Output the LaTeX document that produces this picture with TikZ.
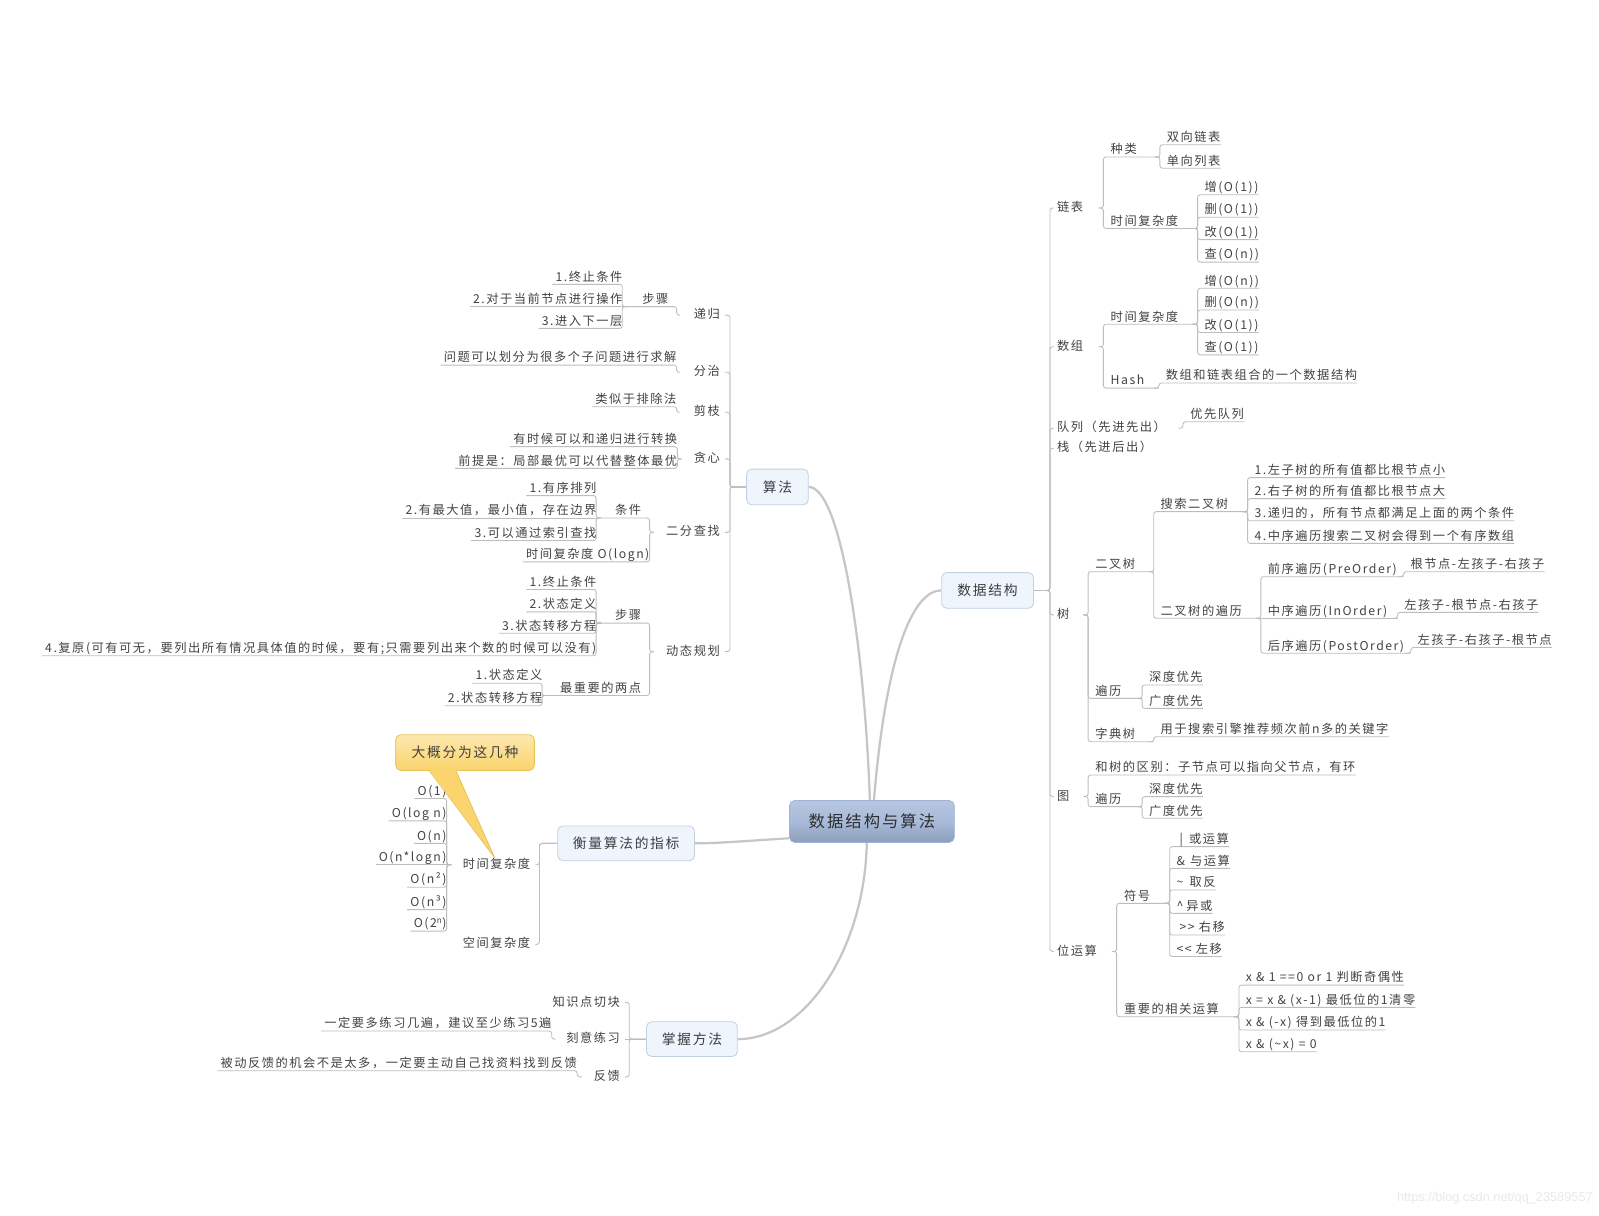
\documentclass[tikz,border=0pt]{standalone}
\usepackage{fontspec}
\setmainfont{Noto Sans CJK SC}[LetterSpace=12.5]
\newfontfamily\wmfont{Liberation Sans}
\pgfdeclarelayer{bg}
\pgfsetlayers{bg,main}
\definecolor{txt}{HTML}{424242}
\definecolor{lnc}{HTML}{BDBDBD}
\definecolor{mcc}{HTML}{C6C6C6}
\definecolor{tbd}{HTML}{C3D0DE}
\definecolor{tfill}{HTML}{EEF5FD}
\definecolor{ttx}{HTML}{3E3E3E}
\definecolor{rbd}{HTML}{9FB3D6}
\definecolor{cobd}{HTML}{E8C25A}
\definecolor{cof}{HTML}{FAD46C}
\definecolor{wmc}{HTML}{E9E9E9}
% right underlined parent: name, left spine x, underline y, right spine x, text
\newcommand\xmRN[5]{\node[nd,anchor=south west] (#1) at (#2,#3) {\makebox[\dimexpr #4pt-#2pt\relax][l]{\hspace{7pt}#5}};}
% left underlined parent: name, right spine x, underline y, left spine x, text
\newcommand\xmLN[5]{\node[nd,anchor=south east] (#1) at (#2,#3) {\makebox[\dimexpr #2pt-#4pt\relax][r]{#5\hspace{8pt}}};}
% leaves
\newcommand\xmRL[4]{\node[nd,anchor=south west] (#1) at (#2,#3) {\hspace{7pt}#4\hspace{3pt}};}
\newcommand\xmLL[4]{\node[nd,anchor=south east] (#1) at (#2,#3) {\hspace{3pt}#4\hspace{8pt}};}
% level-2 labels without underline
\newcommand\xmRM[5]{\node[nd,anchor=west] (#1) at (#2,#3) {\makebox[\dimexpr #4pt-#2pt\relax][l]{\hspace{3pt}#5}};}
\newcommand\xmLM[5]{\node[nd,anchor=east] (#1) at (#2,#3) {\makebox[\dimexpr #2pt-#4pt\relax][r]{#5\hspace{5pt}}};}
% connectors
\newcommand\xmeR[2]{\draw[con] ([xshift=-5pt]#1.south east) -- (#1.south east) |- (#2.south east);}
\newcommand\xmeRm[2]{\draw[con] (#1.east) -- (#1.east -| #2.south west) |- (#2.south east);}
\newcommand\xmeL[2]{\draw[con] ([xshift=5pt]#1.south west) -- (#1.south west) |- (#2.south west);}
\newcommand\xmeLm[2]{\draw[con] (#1.west) -- (#1.west -| #2.south east) |- (#2.south west);}
\begin{document}
\begin{tikzpicture}[x=1pt,y=-1pt,
  nd/.style={inner sep=0pt, text height=10pt, text depth=3pt, font=\fontsize{12}{14}\selectfont, text=txt},
  con/.style={draw=lnc, line width=0.85pt, rounded corners=2.5pt},
  mainc/.style={draw=mcc, line width=2.2pt},
  topic/.style={draw=tbd, fill=tfill, rounded corners=5pt, line width=0.8pt, minimum height=35pt, inner sep=2pt, font=\fontsize{13.5}{16}\selectfont, text=ttx},
  rootn/.style={draw=rbd, top color=white!25!rbd, bottom color=rbd!85!black!95, middle color=rbd!90, rounded corners=5pt, line width=0.8pt, inner sep=2pt, font=\fontsize{16}{19}\selectfont, text=black!82},
  callo/.style={draw=cobd, top color=cof!55!white, bottom color=cof, rounded corners=5pt, line width=0.8pt, inner sep=2pt, minimum width=136pt, minimum height=35pt, font=\fontsize{13.5}{16}\selectfont, text=black!75}
]
\useasboundingbox (0,0) rectangle (1568,1192);

% ---------- topics ----------
\node[rootn, minimum width=161.5pt, minimum height=41pt] (root) at (855,805.5) {数据结构与算法};
\node[topic, minimum width=90pt] (ds) at (968.4,579) {数据结构};
\node[topic, minimum width=60.5pt] (alg) at (762.4,477.5) {算法};
\node[topic, minimum width=134pt, minimum height=34pt] (meas) at (614,827) {衡量算法的指标};
\node[topic, minimum width=89pt, minimum height=34pt] (mast) at (678.5,1019) {掌握方法};

\coordinate (dssp) at (1029.6,579);
\coordinate (algsp) at (715.8,477.5);
\coordinate (mssp) at (529,827);
\coordinate (mtsp) at (617,1019);

% ---------- right: data structures ----------
\xmRM{lb}{1033.5}{204}{1077}{链表}
\xmRM{sz}{1033.5}{340}{1077}{数组}
\xmRM{dl}{1033.5}{420}{1155}{队列（先进先出）}
\xmRM{zh}{1033.5}{439.6}{1135}{栈（先进后出）}
\xmRM{sh}{1033.5}{603}{1062}{树}
\xmRM{tu}{1033.5}{781}{1062}{图}
\xmRM{wy}{1033.5}{933}{1090}{位运算}

\xmRN{zl}{1082}{154}{1137}{种类}
\xmRL{sx}{1137}{142}{双向链表}
\xmRL{dx}{1137}{165}{单向列表}
\xmRN{lsj}{1082}{224}{1174}{时间复杂度}
\xmRL{lz}{1174}{191}{增(O(1))}
\xmRL{ls}{1174}{213}{删(O(1))}
\xmRL{lg}{1174}{235}{改(O(1))}
\xmRL{lc}{1174}{257}{查(O(n))}

\xmRN{ssj}{1082}{318}{1174}{时间复杂度}
\xmRL{sz1}{1174}{282.7}{增(O(n))}
\xmRL{sz2}{1174}{304}{删(O(n))}
\xmRL{sz3}{1174}{326}{改(O(1))}
\xmRL{sz4}{1174}{348}{查(O(1))}
\xmRN{hash}{1082}{380.6}{1136}{Hash}
\xmRL{hashc}{1136}{375.6}{数组和链表组合的一个数据结构}

\xmRL{yx}{1160}{413.6}{优先队列}

\xmRN{ecs}{1067}{560.6}{1131}{二叉树}
\xmRN{sse}{1131}{501.7}{1223}{搜索二叉树}
\xmRL{s1}{1223}{468.4}{1.左子树的所有值都比根节点小}
\xmRL{s2}{1223}{489}{2.右子树的所有值都比根节点大}
\xmRL{s3}{1223}{510.6}{3.递归的，所有节点都满足上面的两个条件}
\xmRL{s4}{1223}{532.8}{4.中序遍历搜索二叉树会得到一个有序数组}
\xmRN{ebl}{1131}{606.3}{1236}{二叉树的遍历}
\xmRN{qx}{1236}{565.5}{1376}{前序遍历(PreOrder)}
\xmRL{qxc}{1376}{560.6}{根节点-左孩子-右孩子}
\xmRN{zx}{1236}{606.3}{1370}{中序遍历(InOrder)}
\xmRL{zxc}{1370}{600.5}{左孩子-根节点-右孩子}
\xmRN{hx}{1236}{640.6}{1383}{后序遍历(PostOrder)}
\xmRL{hxc}{1383}{635}{左孩子-右孩子-根节点}
\xmRN{tbl}{1067}{684.8}{1119.6}{遍历}
\xmRL{tb1}{1119.6}{671.7}{深度优先}
\xmRL{tb2}{1119.6}{694.6}{广度优先}
\xmRN{zds}{1067}{727.3}{1131}{字典树}
\xmRL{zdsc}{1131}{722.4}{用于搜索引擎推荐频次前n多的关键字}

\xmRL{qb}{1067}{760}{和树的区别：子节点可以指向父节点，有环}
\xmRN{tbl2}{1067}{791}{1119.6}{遍历}
\xmRL{tc1}{1119.6}{781.2}{深度优先}
\xmRL{tc2}{1119.6}{802.4}{广度优先}

\xmRN{fh}{1095}{885.8}{1146.6}{符号}
\xmRL{f1}{1146.6}{830.2}{\hspace{3pt}|\hspace{6pt}或运算}
\xmRL{f2}{1146.6}{851.5}{\&\hspace{5pt}与运算}
\xmRL{f3}{1146.6}{872.7}{\textasciitilde\hspace{6pt}取反}
\xmRL{f4}{1146.6}{895.6}{\textasciicircum\hspace{3pt}异或}
\xmRL{f5}{1146.6}{916.9}{\hspace{3pt}>{}>\hspace{4pt}右移}
\xmRL{f6}{1146.6}{938}{<{}<\hspace{4pt}左移}
\xmRN{zy}{1095}{997}{1214.5}{重要的相关运算}
\xmRL{y1}{1214.5}{966}{x \& 1 ==0 or 1 判断奇偶性}
\xmRL{y2}{1214.5}{987.8}{x = x \& (x-1) 最低位的1清零}
\xmRL{y3}{1214.5}{1010}{x \& (-x) 得到最低位的1}
\xmRL{y4}{1214.5}{1031.3}{x \& (\textasciitilde x) = 0}

% ---------- left: algorithms ----------
\xmLM{dg}{711}{309}{667}{递归}
\xmLM{fz}{711}{365}{667}{分治}
\xmLM{jz}{711}{404.3}{667}{剪枝}
\xmLM{tx}{711}{450}{668.7}{贪心}
\xmLM{ef}{711}{522}{641.5}{二分查找}
\xmLM{dt}{711}{639}{641.5}{动态规划}

\xmLN{bz}{663.5}{300.7}{610.6}{步骤}
\xmLL{bz1}{610.6}{278.8}{1.终止条件}
\xmLL{bz2}{610.6}{300.7}{2.对于当前节点进行操作}
\xmLL{bz3}{610.6}{322}{3.进入下一层}
\xmLL{fzc}{663.5}{358}{问题可以划分为很多个子问题进行求解}
\xmLL{jzc}{663.5}{398.8}{类似于排除法}
\xmLL{tx1}{664.2}{438}{有时候可以和递归进行转换}
\xmLL{tx2}{664.2}{459.3}{前提是：局部最优可以代替整体最优}

\xmLN{tj}{637}{508}{585}{条件}
\xmLL{tj1}{585}{486}{1.有序排列}
\xmLL{tj2}{585}{508}{2.有最大值，最小值，存在边界}
\xmLL{tj3}{585}{530}{3.可以通过索引查找}
\xmLL{efc}{637}{551}{时间复杂度 O(logn)}

\xmLN{dbz}{637}{611}{585}{步骤}
\xmLL{d1}{585}{578}{1.终止条件}
\xmLL{d2}{585}{600}{2.状态定义}
\xmLL{d3}{585}{621}{3.状态转移方程}
\xmLL{d4}{585}{643}{4.复原(可有可无，要列出所有情况具体值的时候，要有;只需要列出来个数的时候可以没有)}
\xmLN{zzy}{637}{682}{532}{最重要的两点}
\xmLL{z1}{532}{670}{1.状态定义}
\xmLL{z2}{532}{692}{2.状态转移方程}

% ---------- left: measures ----------
\xmLM{sj}{525}{848}{443}{时间复杂度}
\xmLM{kj}{525}{926}{455}{空间复杂度}
\xmLL{o1}{438}{783}{O(1)}
\xmLL{o2}{438}{805}{O(log n)}
\xmLL{o3}{438}{827}{O(n)}
\xmLL{o4}{438}{848}{O(n*logn)}
\xmLL{o5}{438}{870}{O(n²)}
\xmLL{o6}{438}{892}{O(n³)}
\xmLL{o7}{438}{913}{O(2\textsuperscript{n})}

% ---------- left: methods ----------
\xmLM{zs}{613}{983}{540}{知识点切块}
\xmLM{ky}{613}{1019}{545}{刻意练习}
\xmLM{fk}{613}{1056}{571}{反馈}
\xmLL{kyc}{541}{1011}{一定要多练习几遍，建议至少练习5遍}
\xmLL{fkc}{566}{1050}{被动反馈的机会不是太多，一定要主动自己找资料找到反馈}

% ---------- callout ----------
\node[callo] (co) at (456,738) {大概分为这几种};
\coordinate (cotip) at (485,841);
\fill[cof] ([xshift=-35pt,yshift=1.2pt]co.south) -- (cotip) -- ([xshift=-9pt,yshift=1.2pt]co.south) -- cycle;
\draw[cobd, line width=0.8pt, line join=round] ([xshift=-35pt]co.south) -- (cotip) -- ([xshift=-9pt]co.south);

% ---------- watermark ----------
\node[anchor=east, inner sep=0pt, font=\wmfont\fontsize{12.5}{14}\selectfont, text=wmc] (wm) at (1562,1175) {https://blog.csdn.net/qq\_23589557};

% ---------- connectors ----------
\begin{pgfonlayer}{bg}
\fill[white] (0,0) rectangle (1568,1192);
\draw[mainc] ([xshift=-2pt]root.north) .. controls (848,640) and (825,478) .. (alg.east);
\draw[mainc] ([xshift=2pt]root.north) .. controls (868,650) and (893,579) .. (ds.west);
\draw[mainc] ([yshift=-16.5pt]root.west) .. controls (740,824) and (705,827) .. (meas.east);
\draw[mainc] ([xshift=-5pt]root.south) .. controls (848,930) and (790,1019) .. (mast.east);

\foreach \c in {lb,sz,dl,zh,sh,tu,wy}{\draw[con] (ds.east) -- (dssp) |- (\c.west);}
\xmeRm{lb}{zl} \xmeRm{lb}{lsj}
\xmeR{zl}{sx} \xmeR{zl}{dx}
\xmeR{lsj}{lz} \xmeR{lsj}{ls} \xmeR{lsj}{lg} \xmeR{lsj}{lc}
\xmeRm{sz}{ssj} \xmeRm{sz}{hash}
\xmeR{ssj}{sz1} \xmeR{ssj}{sz2} \xmeR{ssj}{sz3} \xmeR{ssj}{sz4}
\xmeR{hash}{hashc}
\xmeRm{dl}{yx}
\xmeRm{sh}{ecs} \xmeRm{sh}{tbl} \xmeRm{sh}{zds}
\xmeR{ecs}{sse} \xmeR{ecs}{ebl}
\xmeR{sse}{s1} \xmeR{sse}{s2} \xmeR{sse}{s3} \xmeR{sse}{s4}
\xmeR{ebl}{qx} \draw[con] (ebl.south east) -- (zx.south east); \xmeR{ebl}{hx}
\xmeR{qx}{qxc} \xmeR{zx}{zxc} \xmeR{hx}{hxc}
\xmeR{tbl}{tb1} \xmeR{tbl}{tb2}
\xmeR{zds}{zdsc}
\xmeRm{tu}{qb} \xmeRm{tu}{tbl2}
\xmeR{tbl2}{tc1} \xmeR{tbl2}{tc2}
\xmeRm{wy}{fh} \xmeRm{wy}{zy}
\xmeR{fh}{f1} \xmeR{fh}{f2} \xmeR{fh}{f3} \xmeR{fh}{f4} \xmeR{fh}{f5} \xmeR{fh}{f6}
\xmeR{zy}{y1} \xmeR{zy}{y2} \xmeR{zy}{y3} \xmeR{zy}{y4}

\foreach \c in {dg,fz,jz,tx,ef,dt}{\draw[con] (alg.west) -- (algsp) |- (\c.east);}
\xmeLm{dg}{bz}
\xmeL{bz}{bz1} \draw[con] (bz.south west) -- (bz2.south west); \xmeL{bz}{bz3}
\xmeLm{fz}{fzc} \xmeLm{jz}{jzc}
\xmeLm{tx}{tx1} \xmeLm{tx}{tx2}
\xmeLm{ef}{tj} \xmeLm{ef}{efc}
\xmeL{tj}{tj1} \draw[con] (tj.south west) -- (tj2.south west); \xmeL{tj}{tj3}
\xmeLm{dt}{dbz} \xmeLm{dt}{zzy}
\xmeL{dbz}{d1} \xmeL{dbz}{d2} \xmeL{dbz}{d3} \xmeL{dbz}{d4}
\xmeL{zzy}{z1} \xmeL{zzy}{z2}

\draw[con] (meas.west) -- (mssp) |- (sj.east);
\draw[con] (meas.west) -- (mssp) |- (kj.east);
\xmeLm{sj}{o1} \xmeLm{sj}{o2} \xmeLm{sj}{o3} \draw[con] (sj.west) -- (o4.south west);
\xmeLm{sj}{o5} \xmeLm{sj}{o6} \xmeLm{sj}{o7}

\draw[con] (mast.west) -- (mtsp) |- (zs.east);
\draw[con] (mast.west) -- (ky.east);
\draw[con] (mast.west) -- (mtsp) |- (fk.east);
\xmeLm{ky}{kyc} \xmeLm{fk}{fkc}
\end{pgfonlayer}
\end{tikzpicture}
\end{document}
